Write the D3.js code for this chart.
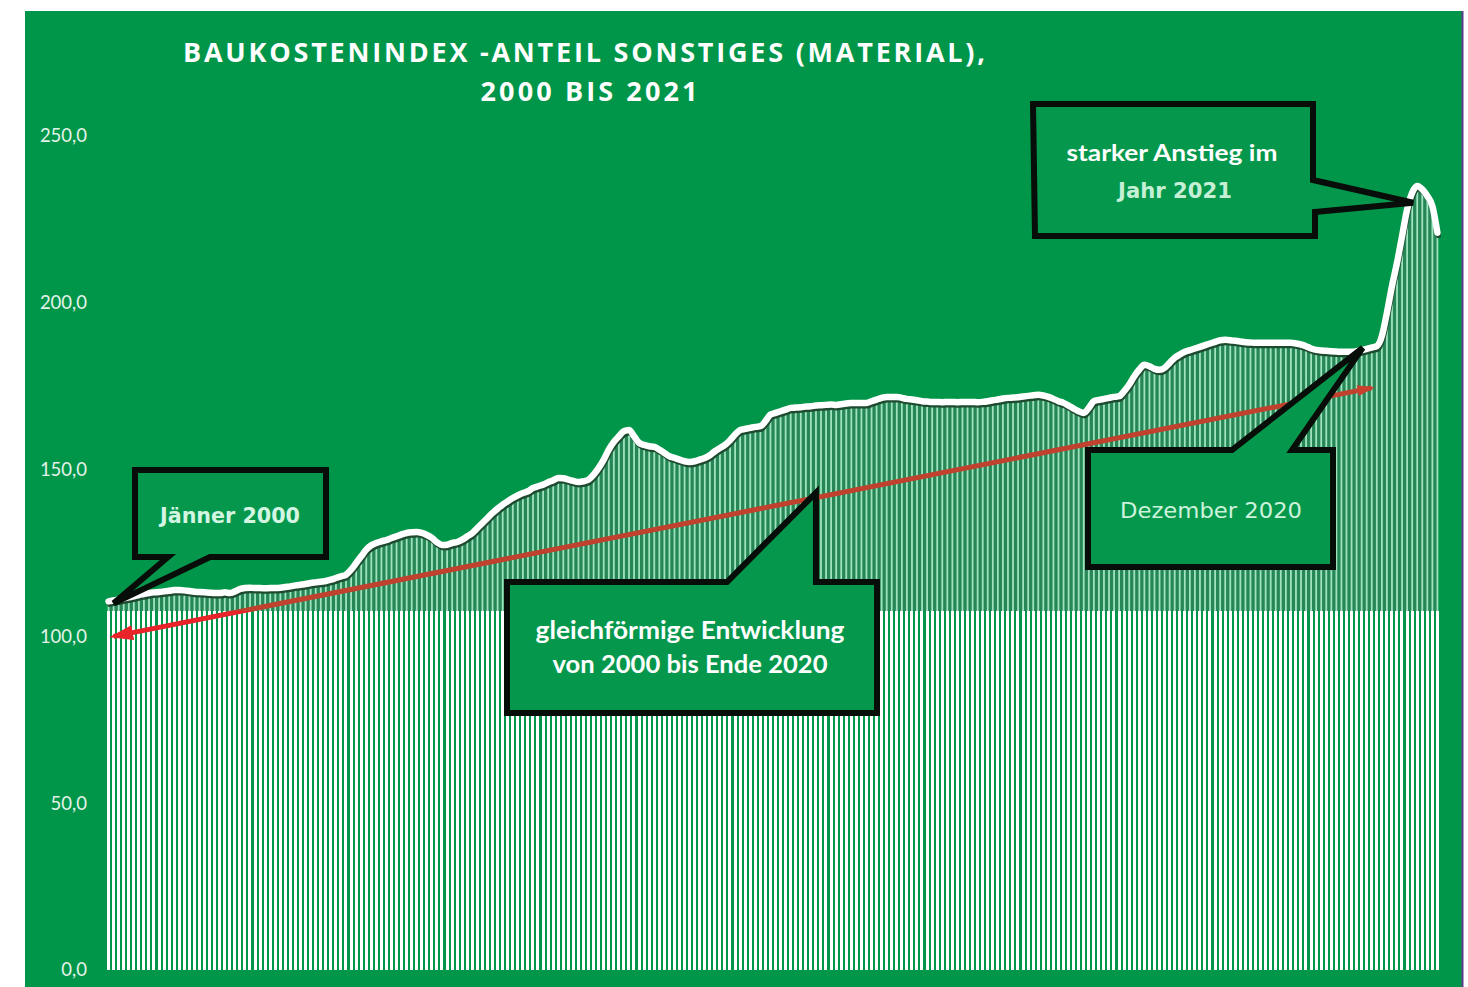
<!DOCTYPE html>
<html>
<head>
<meta charset="utf-8">
<script src="https://cdn.jsdelivr.net/npm/d3@7"></script>
<style>
body { margin: 0; background: #fff; }
svg { display: block; }
</style>
</head>
<body>
<svg id="chart"></svg>
<script>
"use strict";

// Baukostenindex, Anteil Sonstiges (Material), monthly values
const v2000 = [110.5, 110.8, 111.1, 111.4, 111.7, 112.0, 112.4, 112.7, 113.0, 113.2, 113.3, 113.5];
const v2001 = [113.7, 113.9, 113.9, 113.8, 113.6, 113.4, 113.3, 113.2, 113.1, 113.0, 113.0, 113.2];
const v2002 = [113.0, 113.5, 114.2, 114.5, 114.6, 114.5, 114.5, 114.4, 114.5, 114.5, 114.6, 114.8];
const v2003 = [115.0, 115.3, 115.5, 115.7, 116.0, 116.2, 116.4, 116.6, 117.0, 117.5, 118.0, 118.5];
const v2004 = [120.0, 122.0, 124.0, 126.0, 127.3, 128.0, 128.5, 128.9, 129.5, 130.0, 130.6, 131.0];
const v2005 = [131.2, 131.3, 131.0, 130.4, 129.5, 128.2, 127.4, 127.5, 128.0, 128.3, 129.0, 130.0];
const v2006 = [131.0, 132.5, 134.0, 135.5, 137.0, 138.3, 139.5, 140.5, 141.5, 142.3, 143.0, 143.5];
const v2007 = [144.5, 145.0, 145.5, 146.2, 146.8, 147.5, 147.4, 147.0, 146.6, 146.3, 146.5, 147.0];
const v2008 = [148.5, 150.5, 153.0, 156.0, 158.3, 160.0, 161.5, 161.9, 160.0, 158.0, 157.4, 157.0];
const v2009 = [156.8, 156.0, 155.0, 154.0, 153.5, 153.0, 152.5, 152.3, 152.5, 153.0, 153.5, 154.3];
const v2010 = [155.5, 156.5, 157.4, 158.8, 160.5, 161.9, 162.2, 162.5, 162.8, 163.0, 164.5, 166.5];
const v2011 = [167.0, 167.5, 168.0, 168.5, 168.6, 168.7, 168.9, 169.0, 169.2, 169.3, 169.4, 169.5];
const v2012 = [169.4, 169.6, 169.8, 170.0, 170.0, 170.0, 170.0, 170.5, 171.0, 171.5, 171.8, 171.8];
const v2013 = [171.8, 171.5, 171.2, 171.0, 170.8, 170.5, 170.4, 170.3, 170.3, 170.2, 170.3, 170.3];
const v2014 = [170.2, 170.3, 170.3, 170.3, 170.2, 170.3, 170.5, 170.8, 171.0, 171.3, 171.5, 171.6];
const v2015 = [171.7, 171.9, 172.1, 172.3, 172.4, 172.2, 171.8, 171.2, 170.5, 170.0, 169.2, 168.3];
const v2016 = [167.5, 167.0, 168.5, 170.5, 170.9, 171.2, 171.5, 171.8, 172.0, 173.5, 175.5, 178.0];
const v2017 = [180.0, 181.4, 181.0, 180.2, 179.9, 180.5, 182.0, 183.5, 184.5, 185.3, 185.8, 186.3];
const v2018 = [186.8, 187.3, 187.8, 188.3, 188.8, 188.9, 188.8, 188.6, 188.4, 188.2, 188.1, 188.0];
const v2019 = [188.0, 188.0, 188.0, 188.0, 188.0, 188.0, 188.0, 187.8, 187.5, 187.0, 186.3, 185.9];
const v2020 = [185.7, 185.6, 185.5, 185.4, 185.3, 185.3, 185.3, 185.5, 185.8, 186.2, 186.6, 187.0];
const v2021 = [190.0, 197.0, 205.0, 212.0, 220.0, 228.0, 233.0, 235.0, 234.0, 232.0, 229.0, 221.0];

const years = d3.range(2000, 2022);
const months = ["Jän", "Feb", "Mär", "Apr", "Mai", "Jun", "Jul", "Aug", "Sep", "Okt", "Nov", "Dez"];
const yTicks = [0, 50, 100, 150, 200, 250];

// trend arrow "gleichförmige Entwicklung" (month index, index value)
const trendIdx = [1, 250];
const trendVal = [100, 174.5];

const series = [].concat(v2000, v2001, v2002, v2003, v2004, v2005, v2006, v2007, v2008, v2009, v2010,
    v2011, v2012, v2013, v2014, v2015, v2016, v2017, v2018, v2019, v2020, v2021);

const data = series.map(function (v, i) {
    return {i: i, label: months[i % 12] + " " + years[Math.floor(i / 12)], v: v};
});

const WIDTH = 1468, HEIGHT = 987;
const GREEN = "#009649";
const CUT = 107.6;   // the upper part of the picture is a pasted, blurrier copy

const svg = d3.select("#chart").attr("width", WIDTH).attr("height", HEIGHT);

svg.append("rect").attr("x", 25).attr("y", 11).attr("width", 1437).attr("height", HEIGHT - 11).attr("fill", GREEN);
svg.append("line").attr("x1", 1462.5).attr("x2", 1462.5).attr("y1", 11).attr("y2", HEIGHT)
    .attr("stroke", "#5a3c8c").attr("stroke-width", 2);

const x = d3.scaleBand().domain(d3.range(data.length)).range([107, 1439]).paddingInner(0.38).paddingOuter(0);
const y = d3.scaleLinear().domain([0, 250]).range([970, 136]);
const cx = function (i) { return x(i) + x.bandwidth() / 2; };

const defs = svg.append("defs");
defs.append("clipPath").attr("id", "clipUpper").append("rect")
    .attr("x", 0).attr("y", 0).attr("width", WIDTH).attr("height", y(CUT));
defs.append("clipPath").attr("id", "clipLower").append("rect")
    .attr("x", 0).attr("y", y(CUT)).attr("width", WIDTH).attr("height", HEIGHT - y(CUT));

// lower part: crisp white bars
svg.append("g").attr("shape-rendering", "crispEdges")
    .selectAll("rect").data(data).join("rect")
    .attr("x", function (d) { return Math.round(x(d.i)); })
    .attr("y", function (d) { return y(Math.min(d.v, CUT)); })
    .attr("width", 3)
    .attr("height", function (d) { return y(0) - y(Math.min(d.v, CUT)); })
    .attr("fill", "#ffffff");

// upper part: darker fill under the line with thin mint bars
const area = d3.area()
    .x(function (d) { return cx(d.i); })
    .y0(y(CUT))
    .y1(function (d) { return y(d.v); })
    .curve(d3.curveMonotoneX);
svg.append("path").datum(data).attr("d", area).attr("fill", "#268656");

svg.append("g").selectAll("rect").data(data.filter(function (d) { return d.v > CUT; })).join("rect")
    .attr("x", function (d) { return cx(d.i) - 0.9; })
    .attr("y", function (d) { return y(d.v); })
    .attr("width", 1.8)
    .attr("height", function (d) { return y(CUT) - y(d.v); })
    .attr("fill", "#b4f3d0")
    .attr("opacity", 0.85);

const line = d3.line()
    .x(function (d) { return cx(d.i); })
    .y(function (d) { return y(d.v); })
    .curve(d3.curveMonotoneX);

svg.append("path").datum(data).attr("d", line)
    .attr("transform", "translate(1,3)")
    .attr("fill", "none").attr("stroke", "#1e4a30").attr("stroke-width", 5).attr("stroke-linecap", "round");
svg.append("path").datum(data).attr("d", line)
    .attr("fill", "none").attr("stroke", "#ffffff").attr("stroke-width", 6.5)
    .attr("stroke-linecap", "round").attr("stroke-linejoin", "round");

// double headed red trend arrow
function addMarker(id, color, len, wid) {
    defs.append("marker").attr("id", id)
        .attr("viewBox", "0 0 16 10").attr("refX", 13).attr("refY", 5)
        .attr("markerUnits", "userSpaceOnUse")
        .attr("markerWidth", len).attr("markerHeight", wid)
        .attr("orient", "auto-start-reverse")
        .append("path").attr("d", "M0,0 L16,5 L0,10 z").attr("fill", color);
}
addMarker("arrowLow", "#e8232a", 24, 15);
addMarker("arrowHigh", "#c8402e", 18, 11);

const trendPts = trendIdx.map(function (t, k) { return [cx(t), y(trendVal[k])]; });
[["clipLower", "#e8232a", "arrowLow"], ["clipUpper", "#c0412d", "arrowHigh"]].forEach(function (c) {
    svg.append("g").attr("clip-path", "url(#" + c[0] + ")")
        .append("line")
        .attr("x1", trendPts[0][0]).attr("y1", trendPts[0][1])
        .attr("x2", trendPts[1][0]).attr("y2", trendPts[1][1])
        .attr("stroke", c[1]).attr("stroke-width", 5)
        .attr("marker-start", "url(#" + c[2] + ")")
        .attr("marker-end", "url(#" + c[2] + ")");
});

// callouts
function callout(points) {
    svg.append("path")
        .attr("d", d3.line()(points) + "Z")
        .attr("fill", "#05984d")
        .attr("stroke", "#070d08").attr("stroke-width", 6)
        .attr("stroke-linejoin", "miter");
}
function label(txt, px, py, size, weight, color, family, len) {
    const t = svg.append("text")
        .attr("x", px).attr("y", py)
        .attr("text-anchor", "middle")
        .attr("font-family", family)
        .attr("font-size", size)
        .attr("font-weight", weight)
        .attr("fill", color)
        .text(txt);
    if (len) t.attr("textLength", len).attr("lengthAdjust", "spacingAndGlyphs");
    return t;
}

const tipJan = [cx(0) + 5, y(series[0]) + 2];
callout([[135, 470], [326, 470], [326, 557], [210, 557], tipJan, [168, 557], [135, 557]]);
label("Jänner 2000", 230, 523, 21, "bold", "#d4f5e2", "DejaVu Sans", 140);

const tipDec = [cx(249) - 4, y(series[249]) - 1];
callout([[1088, 450], [1232, 450], tipDec, [1292, 450], [1333, 450], [1333, 567], [1088, 567]]);
label("Dezember 2020", 1211, 518, 22, "normal", "#cdf3dc", "DejaVu Sans", 182);

const tipPeak = [cx(258) + 1, y(series[258]) + 10];
callout([[1033, 104], [1313, 104], [1313, 180], tipPeak, [1315, 212], [1315, 236], [1035, 236]]);
label("starker Anstieg im", 1172, 161, 23, "bold", "#ffffff", "Lato", 211);
label("Jahr 2021", 1175, 198, 21, "bold", "#c6f0d6", "DejaVu Sans", 114);

const tipTrend = [cx(140), y(trendVal[0] + (trendVal[1] - trendVal[0]) * (140 - trendIdx[0]) / (trendIdx[1] - trendIdx[0])) - 5];
callout([[507, 582], [727, 582], tipTrend, [tipTrend[0], 582], [877, 582], [877, 713], [507, 713]]);
label("gleichförmige Entwicklung", 690, 639, 24, "bold", "#ffffff", "Lato", 309);
label("von 2000 bis Ende 2020", 690, 673, 24, "bold", "#ffffff", "Lato", 275);

// y axis labels
const de = d3.formatLocale({decimal: ",", thousands: ".", grouping: [3], currency: ["", " €"]});
const yAxis = d3.axisLeft(y).tickValues(yTicks).tickFormat(de.format(".1f")).tickSize(0).tickPadding(0);
const gy = svg.append("g").attr("transform", "translate(87,0)").call(yAxis);
gy.select(".domain").remove();
gy.selectAll("text")
    .attr("font-family", "Lato")
    .attr("font-size", 18.5)
    .attr("fill", "#e4f3ea");

// title
svg.append("text").attr("x", 584).attr("y", 62).attr("text-anchor", "middle")
    .attr("font-family", "Open Sans").attr("font-weight", "bold").attr("font-size", 27)
    .attr("fill", "#ffffff").attr("textLength", 802).attr("lengthAdjust", "spacing")
    .text("BAUKOSTENINDEX -ANTEIL SONSTIGES (MATERIAL),");
svg.append("text").attr("x", 589).attr("y", 101).attr("text-anchor", "middle")
    .attr("font-family", "Open Sans").attr("font-weight", "bold").attr("font-size", 27)
    .attr("fill", "#ffffff").attr("textLength", 217).attr("lengthAdjust", "spacing")
    .text("2000 BIS 2021");
</script>
</body>
</html>
